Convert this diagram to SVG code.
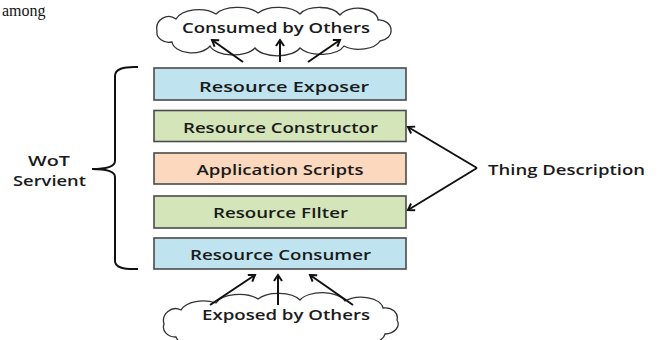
<svg xmlns="http://www.w3.org/2000/svg" width="661" height="340" viewBox="0 0 661 340">
<defs>
<style>
.box{stroke:#4a4a4a;stroke-width:1.6}
.blue{fill:#bfe4ef}
.green{fill:#d4e5b9}
.orange{fill:#fbd8be}
.lbl{font-family:"Open Sans","Liberation Sans",sans-serif;font-size:14px;font-weight:600;fill:#1a1a1a;text-anchor:middle}
.cloud{fill:#fff;stroke:#333;stroke-width:1.3}
.conn{stroke:#111;stroke-width:2;fill:none}
</style>
<marker id="ah" markerWidth="10" markerHeight="10" refX="7" refY="5" orient="auto" markerUnits="userSpaceOnUse">
<path d="M1,1 L7,5 L1,9" fill="none" stroke="#111" stroke-width="2"/>
</marker>
</defs>
<rect width="661" height="340" fill="#fff"/>
<text x="2" y="16" font-family="Liberation Serif,serif" font-size="16" fill="#111">among</text>

<g id="cloud-top">
<path class="cloud" d="M157,31 A12,12 0 0 1 176,19 A24,14 0 0 1 216,14 A24,12 0 0 1 258,13 A24,12 0 0 1 300,14 A22,12 0 0 1 340,15 A20,12 0 0 1 378,20 A12,10 0 0 1 391,30 A14,10 0 0 1 380,41 A22,12 0 0 1 344,46 A24,12 0 0 1 300,48 A24,12 0 0 1 255,48 A24,12 0 0 1 210,46 A20,12 0 0 1 172,42 A12,10 0 0 1 157,31 Z"/>
<text class="lbl" x="276" y="33" textLength="188" lengthAdjust="spacingAndGlyphs">Consumed by Others</text>
</g>

<g id="cloud-bottom">
<path class="cloud" d="M164,324 A12,12 0 0 1 181,310 A24,14 0 0 1 216,303 A24,12 0 0 1 258,299 A24,12 0 0 1 300,300 A24,12 0 0 1 345,301 A22,12 0 0 1 383,308 A12,10 0 0 1 397,320 A14,10 0 0 1 385,334 A22,12 0 0 1 350,342 A26,12 0 0 1 300,346 A26,12 0 0 1 250,346 A24,12 0 0 1 205,343 A18,12 0 0 1 176,337 A12,10 0 0 1 164,324 Z"/>
<text class="lbl" x="286" y="320" textLength="168" lengthAdjust="spacingAndGlyphs">Exposed by Others</text>
</g>

<g id="resource-exposer">
<rect class="box blue" x="154" y="68" width="252" height="32"/>
<text class="lbl" x="284" y="92" textLength="170" lengthAdjust="spacingAndGlyphs">Resource Exposer</text>
</g>
<g id="resource-constructor">
<rect class="box green" x="154" y="110.5" width="252" height="31"/>
<text class="lbl" x="280.5" y="133" textLength="195" lengthAdjust="spacingAndGlyphs">Resource Constructor</text>
</g>
<g id="application-scripts">
<rect class="box orange" x="154" y="153" width="252" height="31"/>
<text class="lbl" x="280" y="175" textLength="167" lengthAdjust="spacingAndGlyphs">Application Scripts</text>
</g>
<g id="resource-filter">
<rect class="box green" x="154" y="196" width="252" height="32"/>
<text class="lbl" x="280.5" y="218" textLength="135" lengthAdjust="spacingAndGlyphs">Resource FIlter</text>
</g>
<g id="resource-consumer">
<rect class="box blue" x="154" y="238" width="252" height="31"/>
<text class="lbl" x="280.5" y="260" textLength="181" lengthAdjust="spacingAndGlyphs">Resource Consumer</text>
</g>

<g id="wot-servient">
<path d="M138,67 Q115,66 115,76 L115,161 Q115,169 92,169 Q115,169 115,177 L115,261 Q115,270 138,269" fill="none" stroke="#111" stroke-width="2"/>
<text class="lbl" x="49" y="166" textLength="42" lengthAdjust="spacingAndGlyphs">WoT</text>
<text class="lbl" x="49.5" y="186" textLength="73" lengthAdjust="spacingAndGlyphs">Servient</text>
</g>

<g id="thing-description">
<text class="lbl" x="566.5" y="175" textLength="157" lengthAdjust="spacingAndGlyphs">Thing Description</text>
</g>

<g id="connectors">
<line class="conn" x1="243" y1="62" x2="212" y2="40" marker-end="url(#ah)"/>
<line class="conn" x1="280" y1="62" x2="280" y2="40" marker-end="url(#ah)"/>
<line class="conn" x1="308" y1="62" x2="340" y2="40" marker-end="url(#ah)"/>
<line class="conn" x1="210" y1="305" x2="255" y2="275" marker-end="url(#ah)"/>
<line class="conn" x1="278" y1="305" x2="278" y2="275" marker-end="url(#ah)"/>
<line class="conn" x1="353" y1="305" x2="310" y2="275" marker-end="url(#ah)"/>
<line class="conn" x1="477" y1="168" x2="408" y2="127" marker-end="url(#ah)"/>
<line class="conn" x1="477" y1="168" x2="408" y2="210" marker-end="url(#ah)"/>
</g>
</svg>
